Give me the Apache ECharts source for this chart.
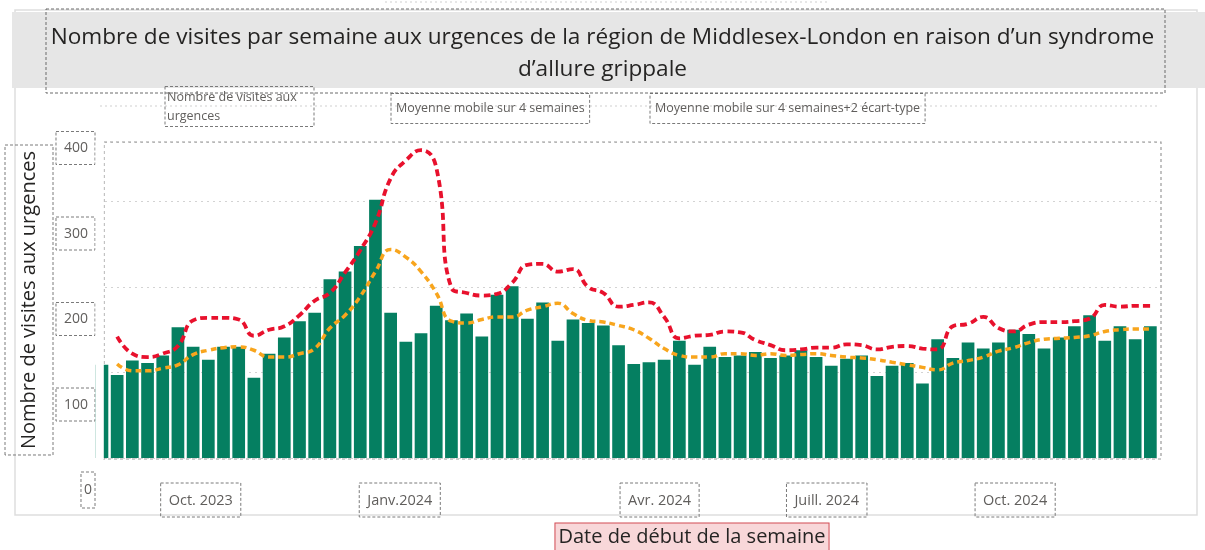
<!DOCTYPE html>
<html>
<head>
<meta charset="utf-8">
<script src="https://cdn.jsdelivr.net/npm/echarts@6/dist/echarts.min.js"></script>
<style>
  html, body { margin: 0; padding: 0; background: #fff; }
  #chart { width: 1205px; height: 550px; }
</style>
</head>
<body>
<div id="chart"></div>
<script>
// weekly ED visits for influenza-like illness (index 0 = week cut at the left edge)
const visits = [109,
  97, 114, 111, 120, 153, 130, 115, 130, 130, 94,
  122, 141, 160, 170, 209, 218, 248, 302, 170, 136,
  146, 178, 161, 169, 142, 191, 201, 163, 182, 137,
  162, 158, 155, 132, 110, 112, 115, 137, 109, 130,
  118, 120, 124, 117, 120, 126, 118, 108, 116, 120,
  96, 108, 111, 87, 139, 117, 135, 128, 135, 150,
  145, 128, 141, 154, 167, 137, 154, 139, 154];

const movingAvg = [null,
  110, 102, 102, 105, 109, 121, 126, 129, 130, 126,
  118, 118, 122, 128, 152, 167, 189, 218, 244, 235,
  218, 193, 160, 158, 162, 165, 165, 173, 177, 181,
  169, 161, 159, 155, 150, 140, 128, 120, 118, 118,
  122, 122, 120, 122, 120, 121, 122, 120, 118, 117,
  115, 112, 109, 106, 103, 111, 114, 118, 125, 129,
  135, 139, 140, 141, 143, 148, 150, 151, 151];

const movingAvgPlus2sd = [null,
  142, 122, 118, 122, 131, 161, 164, 164, 162, 143,
  150, 154, 167, 184, 193, 217, 243, 275, 327, 348,
  360, 340, 199, 193, 190, 192, 205, 226, 227, 218,
  221, 200, 193, 177, 179, 182, 165, 140, 143, 144,
  148, 147, 138, 132, 126, 127, 129, 129, 133, 132,
  127, 130, 131, 128, 127, 154, 157, 165, 152, 148,
  156, 159, 159, 160, 163, 179, 177, 178, 178];

const xTickLabels = ['Oct. 2023', 'Janv.2024', 'Avr. 2024', 'Juill. 2024', 'Oct. 2024'];
const xTickWeeks = [6.5, 19.6, 36.7, 47.7, 60.1];

const seriesNames = [
  'Nombre de visites aux urgences',
  'Moyenne mobile sur 4 semaines',
  'Moyenne mobile sur 4 semaines+2 écart-type'
];

const FONT = '"Open Sans", "Noto Sans", sans-serif';
const GL = 105, GR = 1161, GT = 142, GB = 458;

const toPoints = (arr) => arr.map((v, i) => [i, v]).filter((p) => p[1] != null);

const boxStyle = {
  borderColor: '#7a7a7a',
  borderWidth: 1,
  borderType: [3, 2]
};

let chart = echarts.init(document.getElementById('chart'), null, { renderer: 'canvas' });

let option = {
  animation: false,
  backgroundColor: '#fff',
  textStyle: { fontFamily: FONT },
  title: {
    text: 'Nombre de visites par semaine aux urgences de la région de Middlesex-London en raison d’un syndrome\nd’allure grippale',
    left: 'center',
    top: 22,
    padding: 0,
    textStyle: {
      fontFamily: FONT,
      fontSize: 22.6,
      fontWeight: 'normal',
      color: '#252423',
      lineHeight: 32
    }
  },
  legend: [
    {
      data: [seriesNames[0]],
      left: 155, top: 81,
      icon: 'rect', itemWidth: 0, itemHeight: 0, selectedMode: false,
      textStyle: Object.assign({
        fontSize: 12.5, color: '#605e5c', width: 144, overflow: 'break',
        lineHeight: 19, padding: [1, 3, 1, 2]
      }, boxStyle)
    },
    {
      data: [seriesNames[1]],
      left: 381, top: 88,
      icon: 'rect', itemWidth: 0, itemHeight: 0, selectedMode: false,
      textStyle: Object.assign({ fontSize: 12.5, color: '#605e5c', padding: [9, 5, 8, 5] }, boxStyle)
    },
    {
      data: [seriesNames[2]],
      left: 640, top: 88,
      icon: 'rect', itemWidth: 0, itemHeight: 0, selectedMode: false,
      textStyle: Object.assign({ fontSize: 12.5, color: '#605e5c', padding: [9, 5, 8, 5] }, boxStyle)
    }
  ],
  grid: [
    { left: GL, top: GT, width: GR - GL, height: GB - GT, outerBoundsMode: 'none' },
    { left: 96, top: 148, width: 10, height: 342, outerBoundsMode: 'none' }
  ],
  xAxis: [
    {
      type: 'value',
      gridIndex: 0,
      min: 0.2,
      max: 69.7,
      axisLine: { show: false },
      axisTick: { show: false },
      splitLine: { show: false },
      axisLabel: {
        customValues: xTickWeeks,
        margin: 25,
        formatter: (v) => {
          let k = xTickWeeks.findIndex((w) => Math.abs(w - v) < 0.01);
          return k >= 0 ? '{b|' + xTickLabels[k] + '}' : '';
        },
        rich: {
          b: Object.assign({ fontSize: 14.5, color: '#605e5c', padding: [10, 8, 9, 8] }, boxStyle)
        }
      },
      // the empty token pushes the boxed title right of the axis centre
      name: '{gap|}{t|Date de début de la semaine}',
      nameLocation: 'middle',
      nameGap: 65,
      nameTextStyle: {
        rich: {
          gap: { width: 118, fontSize: 20 },
          t: {
            fontSize: 20,
            color: '#252423',
            backgroundColor: '#f8d7d9',
            borderColor: '#d24a53',
            borderWidth: 1,
            padding: [4, 3, 8, 3]
          }
        }
      }
    },
    { type: 'value', gridIndex: 1, show: false }
  ],
  yAxis: [
    {
      type: 'value',
      gridIndex: 0,
      min: 0,
      max: 369.6,
      interval: 100,
      axisLine: { show: false },
      axisTick: { show: false },
      axisLabel: { show: false },
      splitLine: { lineStyle: { color: '#d3d3d3', type: [2, 4], width: 1 } },
      name: 'Nombre de visites aux urgences',
      nameLocation: 'middle',
      nameRotate: 90,
      nameGap: 52,
      nameTextStyle: Object.assign({
        fontSize: 20, color: '#252423', padding: [14, 6, 14, 6]
      }, boxStyle)
    },
    {
      type: 'value',
      gridIndex: 1,
      min: 0,
      max: 400,
      interval: 100,
      axisLine: { show: false },
      axisTick: { show: false },
      splitLine: { show: false },
      axisLabel: {
        margin: 1,
        formatter: (v) => (v === 0 ? '{z|0}' : '{n|' + v + '}'),
        rich: {
          n: Object.assign({ fontSize: 14, color: '#605e5c', padding: [10, 7, 9, 8] }, boxStyle),
          z: Object.assign({ fontSize: 14, color: '#605e5c', padding: [11, 3, 11, 3] }, boxStyle)
        }
      }
    }
  ],
  series: [
    {
      name: seriesNames[0],
      type: 'bar',
      xAxisIndex: 0,
      yAxisIndex: 0,
      data: toPoints(visits),
      barWidth: 12.7,
      clip: true,
      itemStyle: { color: '#057f61' },
      z: 2
    },
    {
      name: seriesNames[1],
      type: 'line',
      xAxisIndex: 0,
      yAxisIndex: 0,
      data: toPoints(movingAvg),
      smooth: 0.5,
      symbol: 'none',
      clip: false,
      lineStyle: { color: '#f8a51d', width: 3.5, type: [6, 4] },
      itemStyle: { color: '#f8a51d' },
      z: 3
    },
    {
      name: seriesNames[2],
      type: 'line',
      xAxisIndex: 0,
      yAxisIndex: 0,
      data: toPoints(movingAvgPlus2sd),
      smooth: 0.5,
      symbol: 'none',
      clip: false,
      lineStyle: { color: '#e8112d', width: 3.8, type: [7, 4] },
      itemStyle: { color: '#e8112d' },
      z: 4
    }
  ],
  graphic: [
    { type: 'rect', silent: true, z: -10, shape: { x: 15, y: 10, width: 1182, height: 505 },
      style: { fill: 'none', stroke: '#dedede', lineWidth: 1.5 } },
    { type: 'rect', silent: true, z: -9, shape: { x: 12, y: 12, width: 1193, height: 76 },
      style: { fill: '#e6e6e6' } },
    { type: 'rect', silent: true, z: 5, shape: { x: 46, y: 9, width: 1119, height: 84 },
      style: { fill: 'none', stroke: '#6a6a6a', lineWidth: 1, lineDash: [3, 2] } },
    { type: 'line', silent: true, z: -5, shape: { x1: 100, y1: 106, x2: 1160, y2: 106 },
      style: { stroke: '#cfcfcf', lineWidth: 1, lineDash: [2, 3] } },
    { type: 'line', silent: true, z: -5, shape: { x1: 385, y1: 2, x2: 830, y2: 2 },
      style: { stroke: '#cfcfcf', lineWidth: 1, lineDash: [2, 3] } },
    { type: 'rect', silent: true, z: 1, shape: { x: GL - 1, y: GT, width: GR - GL + 1, height: GB - GT + 1 },
      style: { fill: 'none', stroke: '#9a9a9a', lineWidth: 1.2, lineDash: [3, 3] } },
    // bars on a value axis are not clipped at the grid edge, hide the overflow of the first week
    { type: 'rect', silent: true, z: 3, shape: { x: 95.5, y: GT, width: GL - 1.2 - 95.5, height: GB - GT + 1 },
      style: { fill: '#fff' } }
  ]
};

chart.setOption(option);
</script>
</body>
</html>
